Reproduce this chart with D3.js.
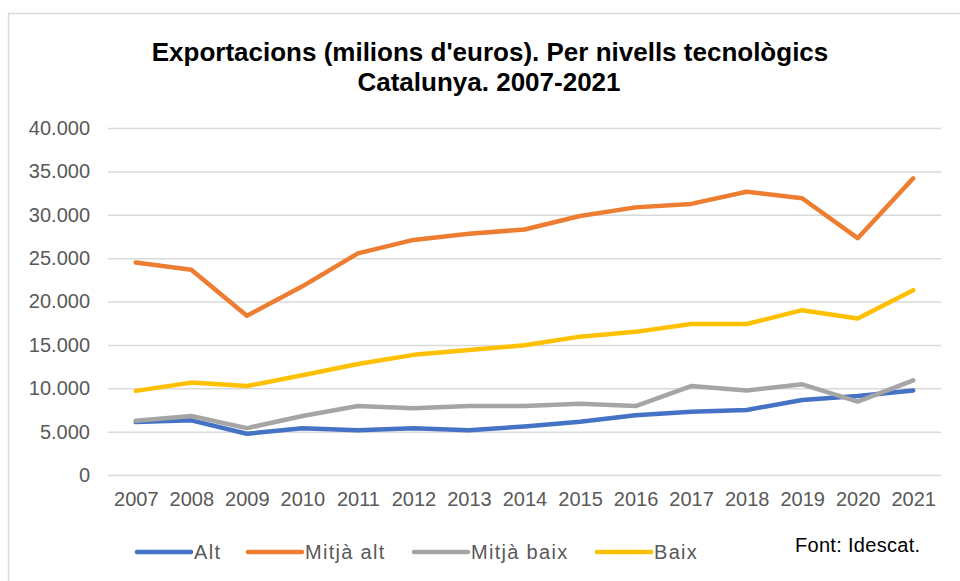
<!DOCTYPE html>
<html>
<head>
<meta charset="utf-8">
<script src="https://cdn.jsdelivr.net/npm/d3@7"></script>
<style>
  body { margin: 0; background: #fff; }
  svg { display: block; font-family: "Liberation Sans", Arial, sans-serif; }
</style>
</head>
<body>
<div id="chart"></div>
<script>
const years = ["2007", "2008", "2009", "2010", "2011", "2012", "2013", "2014", "2015", "2016", "2017", "2018", "2019", "2020", "2021"];
const alt = [6100, 6300, 4750, 5380, 5150, 5380, 5150, 5600, 6150, 6900, 7300, 7500, 8650, 9100, 9750];
const mitjaAlt = [24500, 23650, 18350, 21750, 25550, 27100, 27800, 28300, 29850, 30850, 31250, 32650, 31900, 27300, 34200];
const mitjaBaix = [6250, 6800, 5400, 6800, 7950, 7700, 7950, 7950, 8200, 7950, 10250, 9750, 10450, 8450, 10900];
const baix = [9700, 10650, 10250, 11500, 12800, 13850, 14400, 14950, 15950, 16500, 17400, 17400, 19000, 18050, 21300];
const yTicks = [0, 5000, 10000, 15000, 20000, 25000, 30000, 35000, 40000];

const series = [
    { name: "Alt", values: alt, color: "#4472C4" },
    { name: "Mitjà alt", values: mitjaAlt, color: "#ED7D31" },
    { name: "Mitjà baix", values: mitjaBaix, color: "#A5A5A5" },
    { name: "Baix", values: baix, color: "#FFC000" }
];

const W = 960, H = 581;
const MARGIN = { left: 108, right: 19, top: 128, bottom: 106 };
const width = W - MARGIN.left - MARGIN.right;
const height = H - MARGIN.top - MARGIN.bottom;

const svg = d3.select("#chart").append("svg")
    .attr("width", W)
    .attr("height", H);

// chart frame (cut at right and bottom like the source)
svg.append("path")
    .attr("d", `M8.5,${H} V13.5 H${W}`)
    .attr("fill", "none")
    .attr("stroke", "#d9d9d9")
    .attr("stroke-width", 1.5);

svg.append("text")
    .attr("x", 490).attr("y", 61)
    .attr("text-anchor", "middle")
    .style("font-size", "26px").style("font-weight", "bold").style("fill", "#000")
    .text("Exportacions (milions d'euros). Per nivells tecnològics");
svg.append("text")
    .attr("x", 489).attr("y", 91)
    .attr("text-anchor", "middle")
    .style("font-size", "26px").style("font-weight", "bold").style("fill", "#000")
    .text("Catalunya. 2007-2021");

const g = svg.append("g")
    .attr("transform", `translate(${MARGIN.left}, ${MARGIN.top})`);

const x = d3.scalePoint()
    .domain(years)
    .range([0, width])
    .padding(0.5);

const y = d3.scaleLinear()
    .domain([0, 40000])
    .range([height, 0]);

const fmt = d => d === 0 ? "0" : d3.format(",")(d).replace(/,/g, ".");

const yAxis = g.append("g")
    .call(d3.axisLeft(y).tickValues(yTicks).tickSize(-width).tickPadding(18).tickFormat(fmt));
yAxis.select(".domain").remove();
yAxis.selectAll(".tick line").attr("stroke", "#d9d9d9").attr("stroke-width", 1.5);
yAxis.selectAll(".tick text")
    .style("font-size", "20px").style("fill", "#595959")
    .style("font-family", "'Liberation Sans', Arial, sans-serif");

const xAxis = g.append("g")
    .attr("transform", `translate(0, ${height})`)
    .call(d3.axisBottom(x).tickSize(0).tickPadding(17));
xAxis.select(".domain").remove();
xAxis.selectAll(".tick text")
    .style("font-size", "20px").style("fill", "#595959")
    .style("font-family", "'Liberation Sans', Arial, sans-serif");

const line = d3.line()
    .x((d, i) => x(years[i]))
    .y(d => y(d));

g.selectAll(".series")
    .data(series)
    .join("path")
    .attr("class", "series")
    .attr("d", d => line(d.values))
    .attr("fill", "none")
    .attr("stroke", d => d.color)
    .attr("stroke-width", 4.5)
    .attr("stroke-linejoin", "round")
    .attr("stroke-linecap", "round");

// legend
const legendX = [137, 248, 414, 597];
const legend = svg.append("g");
series.forEach((s, i) => {
    const lg = legend.append("g").attr("transform", `translate(${legendX[i]}, 552)`);
    lg.append("line")
        .attr("x1", 0).attr("x2", 54)
        .attr("stroke", s.color).attr("stroke-width", 4.5)
        .attr("stroke-linecap", "round");
    lg.append("text")
        .attr("x", 57).attr("y", 7)
        .style("font-size", "20px").style("fill", "#595959")
        .style("letter-spacing", "1.3px")
        .text(s.name);
});

svg.append("text")
    .attr("x", 795).attr("y", 552)
    .style("font-size", "20px").style("fill", "#000")
    .style("letter-spacing", "0.3px")
    .text("Font: Idescat.");
</script>
</body>
</html>
